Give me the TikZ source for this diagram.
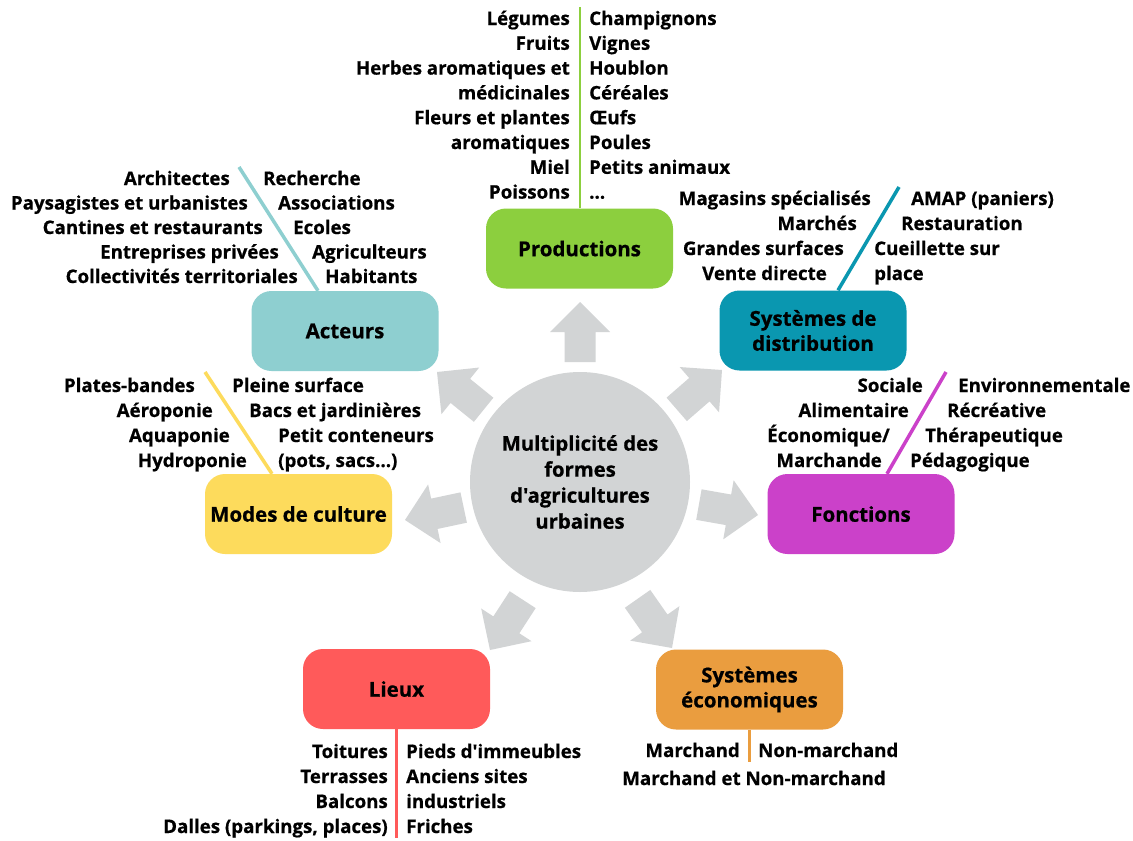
\documentclass[tikz,border=0pt]{standalone}
\usepackage{fontspec}
\setmainfont{Open Sans}[Ligatures=TeXOff, BoldFeatures={FakeBold=0.6}]
\definecolor{cgreen}{HTML}{8CCF3E}
\definecolor{cteal}{HTML}{8ECFD0}
\definecolor{cdteal}{HTML}{0A97B0}
\definecolor{cmag}{HTML}{CB41C9}
\definecolor{cyel}{HTML}{FDDB5C}
\definecolor{cred}{HTML}{FF5A5A}
\definecolor{corg}{HTML}{EA9D3F}
\definecolor{cgray}{HTML}{D2D4D5}
\newcommand\itemL[4]{\node[item, anchor=base east] (#1) at (#2,#3) {#4};}
\newcommand\itemR[4]{\node[item, anchor=base west] (#1) at (#2,#3) {#4};}
\tikzset{
  box/.style={rounded corners=20pt, minimum width=187pt, minimum height=80pt, inner sep=0pt,
    align=center, font=\fontsize{20.5}{25}\selectfont\bfseries},
  item/.style={inner sep=0pt, font=\fontsize{18.7}{25}\selectfont\bfseries},
  branch/.style={line width=3.5pt},
  bigarrow/.pic={\fill[cgray] (0,0) -- (-30,30) -- (-30,15.5) -- (-60,15.5) -- (-60,-15.5) -- (-30,-15.5) -- (-30,-30) -- cycle;}
}
\begin{document}
\begin{tikzpicture}[x=1pt,y=-1pt]
\fill[white] (0,0) rectangle (1133,841);
\useasboundingbox (0,0) rectangle (1133,841);

% hub
\node[circle, fill=cgray, minimum size=220pt, inner sep=0pt, align=center,
  font=\fontsize{20.3}{26}\selectfont\bfseries] (hub) at (580,482)
  {Multiplicité des\\formes\\d'agricultures\\urbaines};

% arrows
\pic[rotate=90] at (580,302) {bigarrow};
\pic[rotate=141] at (437,372) {bigarrow};
\pic[rotate=41] at (722,370) {bigarrow};
\pic[rotate=192] at (405,520) {bigarrow};
\pic[rotate=-10] at (758,515) {bigarrow};
\pic[rotate=237] at (490,650) {bigarrow};
\pic[rotate=-55] at (672,648) {bigarrow};

% boxes
\node[box, fill=cgreen] (prod) at (579.5,248.5) {Productions};
\node[box, fill=cteal] (act) at (345,331) {Acteurs};
\node[box, fill=cdteal] (dist) at (813,330.5) {Systèmes de\\distribution};
\node[box, fill=cmag] (fonc) at (861,514) {Fonctions};
\node[box, fill=cyel] (modes) at (298.5,514) {Modes de culture};
\node[box, fill=cred] (lieux) at (396.5,689) {Lieux};
\node[box, fill=corg] (eco) at (749.5,689.5) {Systèmes\\économiques};

% branch lines
\coordinate (prodtop) at (579.5,7);
\coordinate (acttop) at (239,167);
\coordinate (disttop) at (899,187);
\coordinate (fonctop) at (946,372);
\coordinate (modestop) at (205,372);
\coordinate (lieuxbot) at (396.5,838);
\coordinate (ecobot) at (749.5,762);
\draw[cgreen, line width=2pt] (prod.north) -- (prodtop);
\draw[cteal, branch] ([xshift=-27pt]act.north) -- (acttop);
\draw[cdteal, branch] ([xshift=25pt]dist.north) -- (disttop);
\draw[cmag, branch] ([xshift=26pt]fonc.north) -- (fonctop);
\draw[cyel, branch] ([xshift=-26.5pt]modes.north) -- (modestop);
\draw[cred, branch] (lieux.south) -- (lieuxbot);
\draw[corg, branch] (eco.south) -- (ecobot);

% Productions
\itemL{pl1}{570}{25}{Légumes}
\itemL{pl2}{570}{49.8}{Fruits}
\itemL{pl3}{570}{74.6}{Herbes aromatiques et}
\itemL{pl4}{570}{99.4}{médicinales}
\itemL{pl5}{570}{124.2}{Fleurs et plantes}
\itemL{pl6}{570}{149}{aromatiques}
\itemL{pl7}{570}{173.8}{Miel}
\itemL{pl8}{570}{198.6}{Poissons}
\itemR{pr1}{589}{25}{Champignons}
\itemR{pr2}{589}{49.8}{Vignes}
\itemR{pr3}{589}{74.6}{Houblon}
\itemR{pr4}{589}{99.4}{Céréales}
\itemR{pr5}{589}{124.2}{Œufs}
\itemR{pr6}{589}{149}{Poules}
\itemR{pr7}{589}{173.8}{Petits animaux}
\itemR{pr8}{589}{198.6}{…}

% Acteurs
\itemL{al1}{230}{185}{Architectes}
\itemL{al2}{248}{209.5}{Paysagistes et urbanistes}
\itemL{al3}{263}{234}{Cantines et restaurants}
\itemL{al4}{279}{258.5}{Entreprises privées}
\itemL{al5}{298}{283}{Collectivités territoriales}
\itemR{ar1}{263}{185}{Recherche}
\itemR{ar2}{278}{209.5}{Associations}
\itemR{ar3}{293}{234}{Ecoles}
\itemR{ar4}{312}{258.5}{Agriculteurs}
\itemR{ar5}{325}{283}{Habitants}

% Distribution
\itemL{dl1}{871}{205}{Magasins spécialisés}
\itemL{dl2}{857}{230}{Marchés}
\itemL{dl3}{844}{255}{Grandes surfaces}
\itemL{dl4}{827}{280}{Vente directe}
\itemR{dr1}{911}{205}{AMAP (paniers)}
\itemR{dr2}{901}{230}{Restauration}
\itemR{dr3}{874}{255}{Cueillette sur}
\itemR{dr4}{874}{280}{place}

% Fonctions
\itemL{fl1}{923}{392}{Sociale}
\itemL{fl2}{909}{417}{Alimentaire}
\itemL{fl3}{890}{442}{Économique/}
\itemL{fl4}{882}{467}{Marchande}
\itemR{fr1}{958}{392}{Environnementale}
\itemR{fr2}{947}{417}{Récréative}
\itemR{fr3}{925}{442}{Thérapeutique}
\itemR{fr4}{910}{467}{Pédagogique}

% Modes de culture
\itemL{ml1}{195}{392}{Plates-bandes}
\itemL{ml2}{213}{417}{Aéroponie}
\itemL{ml3}{230}{442}{Aquaponie}
\itemL{ml4}{247}{467}{Hydroponie}
\itemR{mr1}{232}{392}{Pleine surface}
\itemR{mr2}{249}{417}{Bacs et jardinières}
\itemR{mr3}{278}{442}{Petit conteneurs}
\itemR{mr4}{278}{467}{(pots, sacs…)}

% Lieux
\itemL{ll1}{388}{758}{Toitures}
\itemL{ll2}{388}{783}{Terrasses}
\itemL{ll3}{388}{808}{Balcons}
\itemL{ll4}{388}{833}{Dalles (parkings, places)}
\itemR{lr1}{406}{758}{Pieds d'immeubles}
\itemR{lr2}{406}{783}{Anciens sites}
\itemR{lr3}{406}{808}{industriels}
\itemR{lr4}{406}{833}{Friches}

% Systèmes économiques
\itemL{el1}{740}{757}{Marchand}
\itemR{er1}{758}{757}{Non-marchand}
\node[item, anchor=base] (e2) at (754,785) {Marchand et Non-marchand};
\end{tikzpicture}
\end{document}
